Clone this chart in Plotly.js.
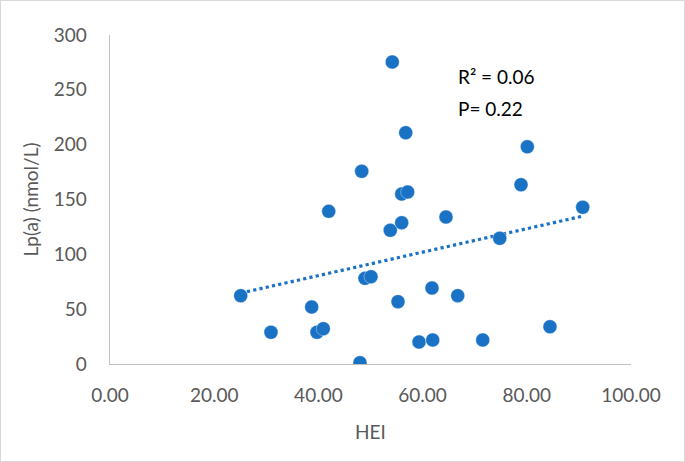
<!DOCTYPE html>
<html>
<head>
<meta charset="utf-8">
<script src="https://cdn.plot.ly/plotly-3.0.1.min.js"></script>
<style>
html,body{margin:0;padding:0;background:#fff;}
#wrap{position:relative;width:685px;height:462px;}
#chart{width:685px;height:462px;}
#frame{position:absolute;left:0;top:0;width:683px;height:460px;border:1px solid #D9D9D9;pointer-events:none;}
</style>
</head>
<body>
<div id="wrap"><div id="chart"></div><div id="frame"></div></div>
<script>
// HEI score (x) and Lp(a) nmol/L (y)
const hei = [25.09,30.90,38.71,39.73,40.94,41.98,47.98,48.31,48.94,50.10,53.80,54.18,55.28,55.99,55.99,56.76,57.14,59.31,61.80,61.94,64.49,66.74,71.54,74.80,78.89,80.10,84.45,90.73];
const lpa = [62.3,28.9,52.0,28.9,32.2,139.2,1.2,175.7,78.1,79.6,121.9,275.4,56.8,128.8,155.0,210.9,156.8,20.1,69.3,21.9,134.0,62.3,21.9,114.6,163.5,198.1,34.0,142.9];
const xTickVals = [0,20,40,60,80,100];
const xTickText = ['0.00','20.00','40.00','60.00','80.00','100.00'];
const yTickVals = [0,50,100,150,200,250,300];
const statLines = ['R² = 0.06','P= 0.22'];

// least squares linear trendline (as in the spreadsheet chart)
const n = hei.length;
const mx = hei.reduce((a,b)=>a+b,0)/n;
const my = lpa.reduce((a,b)=>a+b,0)/n;
let sxy=0,sxx=0;
for(let i=0;i<n;i++){sxy+=(hei[i]-mx)*(lpa[i]-my);sxx+=(hei[i]-mx)*(hei[i]-mx);}
const slope=sxy/sxx, icpt=my-slope*mx;
const xmin=Math.min(...hei), xmax=Math.max(...hei);
const trendX=[xmin,xmax], trendY=[icpt+slope*xmin, icpt+slope*xmax];

const blue='#1A72C5';
const font='Lato, "Open Sans", "Liberation Sans", sans-serif';
const traces=[
 {x:trendX,y:trendY,mode:'lines',type:'scatter',line:{color:blue,width:3.2,dash:'dot'},hoverinfo:'skip'},
 {x:hei,y:lpa,mode:'markers',type:'scatter',marker:{color:blue,size:14,line:{width:0.6,color:'rgba(255,255,255,0.6)'}}}
];
const layout={
 width:685,height:462,showlegend:false,
 paper_bgcolor:'#fff',plot_bgcolor:'#fff',
 margin:{l:110,r:54,t:35,b:98},
 font:{family:font,color:'#595959',size:20},
 xaxis:{range:[0,100],tickvals:xTickVals,ticktext:xTickText,showgrid:false,zeroline:false,
   showline:true,linecolor:'#BFBFBF',linewidth:1.3,ticks:'outside',ticklen:14,tickcolor:'rgba(0,0,0,0)',
   tickfont:{family:font,size:19,color:'#595959'},
   title:{text:'HEI',font:{family:font,size:19,color:'#595959'},standoff:20}},
 yaxis:{range:[0,300],tickvals:yTickVals,showgrid:false,zeroline:false,
   showline:true,linecolor:'#BFBFBF',linewidth:1.3,ticks:'outside',ticklen:18,tickcolor:'rgba(0,0,0,0)',
   tickfont:{family:font,size:19,color:'#595959'},
   title:{text:'Lp(a) (nmol/L)',font:{family:font,size:19,color:'#595959'},standoff:10}},
 annotations:[
  {xref:'paper',yref:'paper',x:(456-110)/521,y:(364-77)/329,xanchor:'left',yanchor:'middle',showarrow:false,text:statLines[0],font:{family:font,size:19,color:'#000'}},
  {xref:'paper',yref:'paper',x:(456-110)/521,y:(364-108)/329,xanchor:'left',yanchor:'middle',showarrow:false,text:statLines[1],font:{family:font,size:19,color:'#000'}}
 ]
};
Plotly.newPlot('chart',traces,layout,{displayModeBar:false,staticPlot:true});
</script>
</body>
</html>
